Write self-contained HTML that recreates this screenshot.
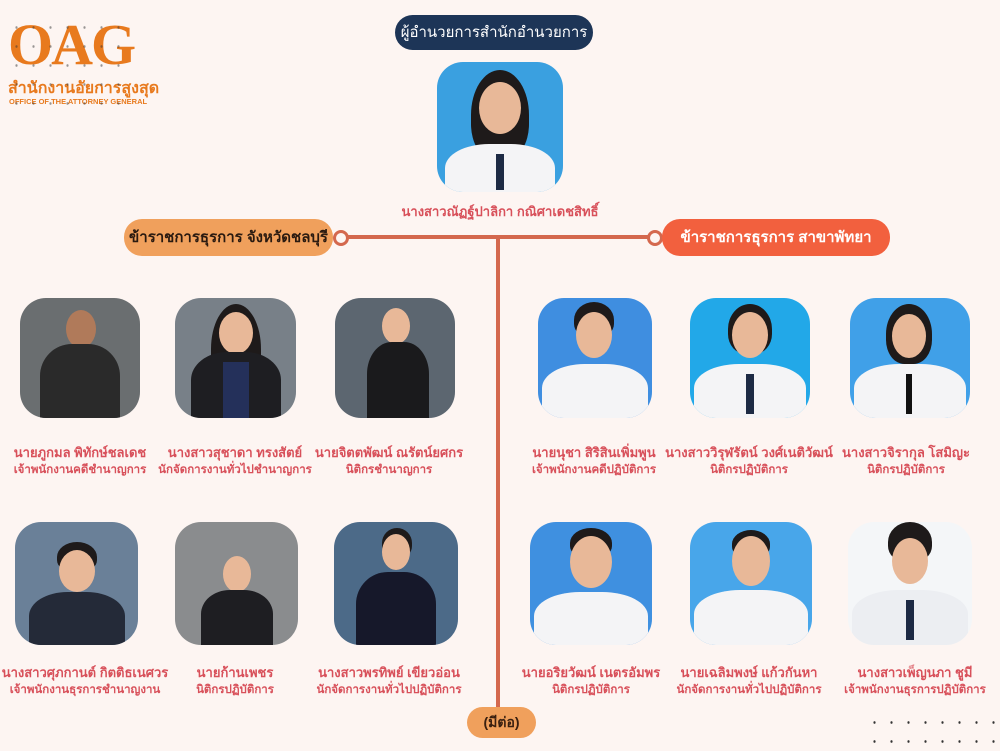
<!DOCTYPE html>
<html><head><meta charset="utf-8"><style>
body{margin:0;width:1000px;height:750px;overflow:hidden;background:#fdf5f2;font-family:"Liberation Sans","Noto Sans CJK SC",sans-serif;position:relative}
.a{position:absolute}
.ph{position:absolute;border-radius:26px;overflow:hidden}
.hd{position:absolute;border-radius:50%;background:#e8b898}
.hr{position:absolute;border-radius:50% 50% 40% 40%;background:#1e1a1a}
.bd{position:absolute;border-radius:40% 40% 0 0}
.nm{position:absolute;text-align:center;color:#d8505a;font-weight:bold;font-size:13px;white-space:nowrap;transform:translateX(-50%);line-height:17px}
.nm div+div{font-size:11.5px;margin-top:1px}
.pill{position:absolute;border-radius:18px;font-weight:bold;text-align:center}
.dots{position:absolute;background-image:radial-gradient(#333 1px,transparent 1.3px);background-size:17px 19px}
</style></head><body>
<div class="a" style="left:8px;top:14px;font-family:'Liberation Serif',serif;font-size:58px;font-weight:bold;color:#e87a1e;letter-spacing:-2px;line-height:62px">OAG</div>
<div class="a" style="left:8px;top:76px;font-size:16px;color:#e87a1e;font-weight:bold">สำนักงานอัยการสูงสุด</div>
<div class="a" style="left:9px;top:97px;font-size:7.5px;color:#e87a1e;font-weight:bold">OFFICE OF THE ATTORNEY GENERAL</div>
<div class="dots" style="left:8px;top:18px;width:112px;height:90px;opacity:.5"></div>

<div class="pill" style="left:395px;top:15px;width:198px;height:35px;background:#1d3557;color:#fff;font-weight:normal;font-size:15px;line-height:35px">ผู้อำนวยการสำนักอำนวยการ</div>

<div class="a" style="left:345px;top:235px;width:305px;height:4px;background:#d4684e"></div>
<div class="a" style="left:496px;top:237px;width:4px;height:473px;background:#d4684e"></div>
<div class="a" style="left:333px;top:230px;width:10px;height:10px;border:3px solid #d4684e;border-radius:50%;background:#fdf5f2"></div>
<div class="a" style="left:647px;top:230px;width:10px;height:10px;border:3px solid #d4684e;border-radius:50%;background:#fdf5f2"></div>
<div class="pill" style="left:124px;top:219px;width:209px;height:37px;background:#f0a05c;color:#2a1a10;font-size:15px;line-height:37px">ข้าราชการธุรการ จังหวัดชลบุรี</div>
<div class="pill" style="left:662px;top:219px;width:228px;height:37px;background:#f2603e;color:#fff;font-size:15px;line-height:37px">ข้าราชการธุรการ สาขาพัทยา</div>
<div class="pill" style="left:467px;top:707px;width:69px;height:31px;background:#f0a05c;color:#3a2010;font-size:14px;line-height:31px">(มีต่อ)</div>
<div class="dots" style="left:866px;top:713px;width:134px;height:38px"></div>

<div class="ph" style="left:437px;top:62px;width:126px;height:130px;background:#3aa0e0">
 <div class="hr" style="left:34px;top:8px;width:58px;height:90px"></div>
 <div class="hd" style="left:42px;top:20px;width:42px;height:52px"></div>
 <div class="bd" style="left:8px;top:82px;width:110px;height:60px;background:#f4f4f6"></div>
 <div class="a" style="left:59px;top:92px;width:8px;height:36px;background:#1d2a44"></div>
</div>
<div class="nm" style="left:500px;top:203px">นางสาวณัฏฐ์ปาลิกา กณิศาเดชสิทธิ์</div>

<div class="ph" style="left:20px;top:298px;width:120px;height:120px;background:#6a6e70">
 <div class="hd" style="left:46px;top:12px;width:30px;height:38px;background:#b07a5a"></div>
 <div class="bd" style="left:20px;top:46px;width:80px;height:80px;background:#2a2a2a"></div></div>
<div class="ph" style="left:175px;top:298px;width:121px;height:120px;background:#788088">
 <div class="hr" style="left:36px;top:6px;width:50px;height:90px"></div>
 <div class="hd" style="left:44px;top:14px;width:34px;height:42px"></div>
 <div class="bd" style="left:16px;top:54px;width:90px;height:70px;background:#1e1e22"></div>
 <div class="a" style="left:48px;top:64px;width:26px;height:60px;background:#24305a"></div></div>
<div class="ph" style="left:335px;top:298px;width:120px;height:120px;background:#5c6670">
 <div class="hd" style="left:47px;top:10px;width:28px;height:36px"></div>
 <div class="bd" style="left:32px;top:44px;width:62px;height:80px;background:#1a1a1c"></div></div>
<div class="ph" style="left:538px;top:298px;width:114px;height:120px;background:#3f8ee0">
 <div class="hr" style="left:36px;top:4px;width:40px;height:36px"></div>
 <div class="hd" style="left:38px;top:14px;width:36px;height:46px"></div>
 <div class="bd" style="left:4px;top:66px;width:106px;height:60px;background:#f4f4f6"></div></div>
<div class="ph" style="left:690px;top:298px;width:120px;height:120px;background:#22a8e8">
 <div class="hr" style="left:38px;top:6px;width:44px;height:50px"></div>
 <div class="hd" style="left:42px;top:14px;width:36px;height:46px"></div>
 <div class="bd" style="left:4px;top:66px;width:112px;height:60px;background:#f4f4f6"></div>
 <div class="a" style="left:56px;top:76px;width:8px;height:40px;background:#1d2a44"></div></div>
<div class="ph" style="left:850px;top:298px;width:120px;height:120px;background:#40a0e8">
 <div class="hr" style="left:36px;top:6px;width:46px;height:60px"></div>
 <div class="hd" style="left:42px;top:16px;width:34px;height:44px"></div>
 <div class="bd" style="left:4px;top:66px;width:112px;height:60px;background:#f4f4f6"></div>
 <div class="a" style="left:56px;top:76px;width:6px;height:40px;background:#111"></div></div>

<div class="nm" style="left:80px;top:444px"><div>นายภูกมล พิทักษ์ชลเดช</div><div>เจ้าพนักงานคดีชำนาญการ</div></div>
<div class="nm" style="left:235px;top:444px"><div>นางสาวสุชาดา ทรงสัตย์</div><div>นักจัดการงานทั่วไปชำนาญการ</div></div>
<div class="nm" style="left:389px;top:444px"><div>นายจิตตพัฒน์ ณรัตน์ยศกร</div><div>นิติกรชำนาญการ</div></div>
<div class="nm" style="left:594px;top:444px"><div>นายนุชา สิริสินเพิ่มพูน</div><div>เจ้าพนักงานคดีปฏิบัติการ</div></div>
<div class="nm" style="left:749px;top:444px"><div>นางสาววิรุฬรัตน์ วงศ์เนติวัฒน์</div><div>นิติกรปฏิบัติการ</div></div>
<div class="nm" style="left:906px;top:444px"><div>นางสาวจิรากุล โสมิญะ</div><div>นิติกรปฏิบัติการ</div></div>

<div class="ph" style="left:15px;top:522px;width:123px;height:123px;background:#6a8098">
 <div class="hr" style="left:42px;top:20px;width:40px;height:30px"></div>
 <div class="hd" style="left:44px;top:28px;width:36px;height:42px"></div>
 <div class="bd" style="left:14px;top:70px;width:96px;height:60px;background:#242a38"></div></div>
<div class="ph" style="left:175px;top:522px;width:123px;height:123px;background:#8a8c8e">
 <div class="hd" style="left:48px;top:34px;width:28px;height:36px"></div>
 <div class="bd" style="left:26px;top:68px;width:72px;height:60px;background:#1e1e22"></div></div>
<div class="ph" style="left:334px;top:522px;width:124px;height:123px;background:#4c6a88">
 <div class="hr" style="left:48px;top:6px;width:30px;height:30px"></div>
 <div class="hd" style="left:48px;top:12px;width:28px;height:36px"></div>
 <div class="bd" style="left:22px;top:50px;width:80px;height:80px;background:#16182a"></div></div>
<div class="ph" style="left:530px;top:522px;width:122px;height:123px;background:#3f90e0">
 <div class="hr" style="left:40px;top:6px;width:42px;height:30px"></div>
 <div class="hd" style="left:40px;top:14px;width:42px;height:52px"></div>
 <div class="bd" style="left:4px;top:70px;width:114px;height:60px;background:#f4f4f6"></div></div>
<div class="ph" style="left:690px;top:522px;width:122px;height:123px;background:#48a6ea">
 <div class="hr" style="left:42px;top:8px;width:38px;height:28px"></div>
 <div class="hd" style="left:42px;top:14px;width:38px;height:50px"></div>
 <div class="bd" style="left:4px;top:68px;width:114px;height:60px;background:#f4f4f6"></div></div>
<div class="ph" style="left:848px;top:522px;width:124px;height:123px;background:#f4f6f8">
 <div class="hr" style="left:40px;top:0px;width:44px;height:40px"></div>
 <div class="hd" style="left:44px;top:16px;width:36px;height:46px"></div>
 <div class="bd" style="left:4px;top:68px;width:116px;height:60px;background:#eceef2"></div>
 <div class="a" style="left:58px;top:78px;width:8px;height:40px;background:#1d2a44"></div></div>

<div class="nm" style="left:85px;top:664px"><div>นางสาวศุภกานต์ กิตติธเนศวร</div><div>เจ้าพนักงานธุรการชำนาญงาน</div></div>
<div class="nm" style="left:235px;top:664px"><div>นายก้านเพชร</div><div>นิติกรปฏิบัติการ</div></div>
<div class="nm" style="left:389px;top:664px"><div>นางสาวพรทิพย์ เขียวอ่อน</div><div>นักจัดการงานทั่วไปปฏิบัติการ</div></div>
<div class="nm" style="left:591px;top:664px"><div>นายอริยวัฒน์ เนตรอัมพร</div><div>นิติกรปฏิบัติการ</div></div>
<div class="nm" style="left:749px;top:664px"><div>นายเฉลิมพงษ์ แก้วกันหา</div><div>นักจัดการงานทั่วไปปฏิบัติการ</div></div>
<div class="nm" style="left:915px;top:664px"><div>นางสาวเพ็ญนภา ชูมี</div><div>เจ้าพนักงานธุรการปฏิบัติการ</div></div>
</body></html>
